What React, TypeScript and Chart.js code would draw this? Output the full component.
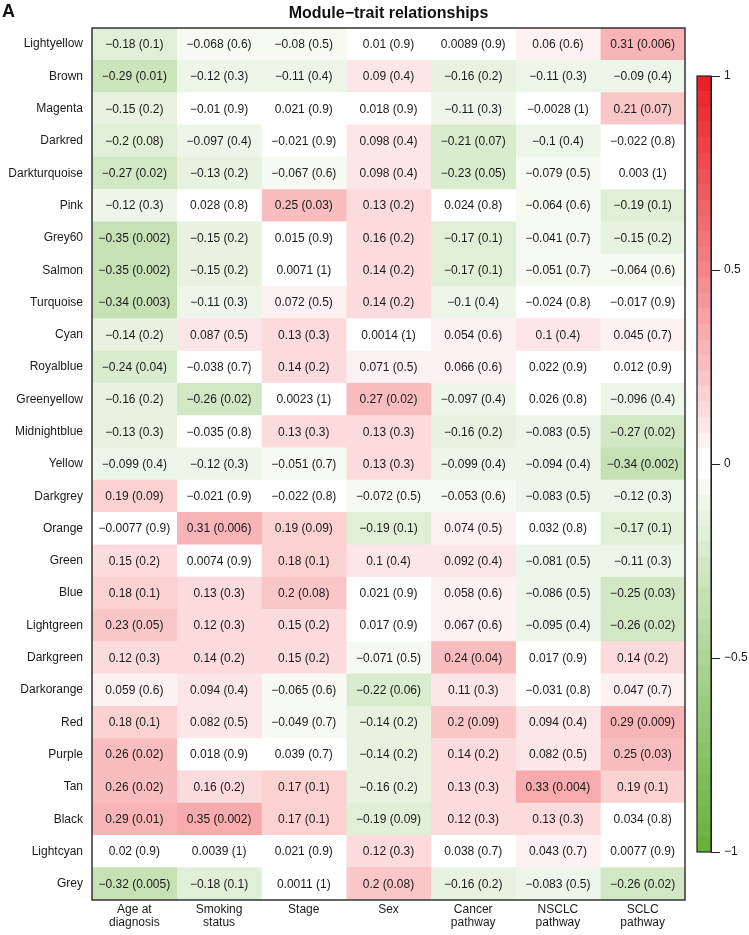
import React, { useEffect, useRef } from 'react';
import { Chart, registerables } from 'chart.js';

Chart.register(...registerables);

const FONT = '"Liberation Sans", Arial, Helvetica, sans-serif';

const modules = [
  'Lightyellow', 'Brown', 'Magenta', 'Darkred', 'Darkturquoise', 'Pink', 'Grey60', 'Salmon', 'Turquoise',
  'Cyan', 'Royalblue', 'Greenyellow', 'Midnightblue', 'Yellow', 'Darkgrey', 'Orange', 'Green', 'Blue',
  'Lightgreen', 'Darkgreen', 'Darkorange', 'Red', 'Purple', 'Tan', 'Black', 'Lightcyan', 'Grey',
];

const traitLabels = [
  ['Age at', 'diagnosis'],
  ['Smoking', 'status'],
  ['Stage'],
  ['Sex'],
  ['Cancer', 'pathway'],
  ['NSCLC', 'pathway'],
  ['SCLC', 'pathway'],
];

const corrAge = [-0.18, -0.29, -0.15, -0.2, -0.27, -0.12, -0.35, -0.35, -0.34, -0.14, -0.24, -0.16, -0.13, -0.099, 0.19, -0.0077, 0.15, 0.18, 0.23, 0.12, 0.059, 0.18, 0.26, 0.26, 0.29, 0.02, -0.32];
const pAge = [0.1, 0.01, 0.2, 0.08, 0.02, 0.3, 0.002, 0.002, 0.003, 0.2, 0.04, 0.2, 0.3, 0.4, 0.09, 0.9, 0.2, 0.1, 0.05, 0.3, 0.6, 0.1, 0.02, 0.02, 0.01, 0.9, 0.005];

const corrSmoking = [-0.068, -0.12, -0.01, -0.097, -0.13, 0.028, -0.15, -0.15, -0.11, 0.087, -0.038, -0.26, -0.035, -0.12, -0.021, 0.31, 0.0074, 0.13, 0.12, 0.14, 0.094, 0.082, 0.018, 0.16, 0.35, 0.0039, -0.18];
const pSmoking = [0.6, 0.3, 0.9, 0.4, 0.2, 0.8, 0.2, 0.2, 0.3, 0.5, 0.7, 0.02, 0.8, 0.3, 0.9, 0.006, 0.9, 0.3, 0.3, 0.2, 0.4, 0.5, 0.9, 0.2, 0.002, 1, 0.1];

const corrStage = [-0.08, -0.11, 0.021, -0.021, -0.067, 0.25, 0.015, 0.0071, 0.072, 0.13, 0.14, 0.0023, 0.13, -0.051, -0.022, 0.19, 0.18, 0.2, 0.15, 0.15, -0.065, -0.049, 0.039, 0.17, 0.17, 0.021, 0.0011];
const pStage = [0.5, 0.4, 0.9, 0.9, 0.6, 0.03, 0.9, 1, 0.5, 0.3, 0.2, 1, 0.3, 0.7, 0.8, 0.09, 0.1, 0.08, 0.2, 0.2, 0.6, 0.7, 0.7, 0.1, 0.1, 0.9, 1];

const corrSex = [0.01, 0.09, 0.018, 0.098, 0.098, 0.13, 0.16, 0.14, 0.14, 0.0014, 0.071, 0.27, 0.13, 0.13, -0.072, -0.19, 0.1, 0.021, 0.017, -0.071, -0.22, -0.14, -0.14, -0.16, -0.19, 0.12, 0.2];
const pSex = [0.9, 0.4, 0.9, 0.4, 0.4, 0.2, 0.2, 0.2, 0.2, 1, 0.5, 0.02, 0.3, 0.3, 0.5, 0.1, 0.4, 0.9, 0.9, 0.5, 0.06, 0.2, 0.2, 0.2, 0.09, 0.3, 0.08];

const corrCancer = [0.0089, -0.16, -0.11, -0.21, -0.23, 0.024, -0.17, -0.17, -0.1, 0.054, 0.066, -0.097, -0.16, -0.099, -0.053, 0.074, 0.092, 0.058, 0.067, 0.24, 0.11, 0.2, 0.14, 0.13, 0.12, 0.038, -0.16];
const pCancer = [0.9, 0.2, 0.3, 0.07, 0.05, 0.8, 0.1, 0.1, 0.4, 0.6, 0.6, 0.4, 0.2, 0.4, 0.6, 0.5, 0.4, 0.6, 0.6, 0.04, 0.3, 0.09, 0.2, 0.3, 0.3, 0.7, 0.2];

const corrNsclc = [0.06, -0.11, -0.0028, -0.1, -0.079, -0.064, -0.041, -0.051, -0.024, 0.1, 0.022, 0.026, -0.083, -0.094, -0.083, 0.032, -0.081, -0.086, -0.095, 0.017, -0.031, 0.094, 0.082, 0.33, 0.13, 0.043, -0.083];
const pNsclc = [0.6, 0.3, 1, 0.4, 0.5, 0.6, 0.7, 0.7, 0.8, 0.4, 0.9, 0.8, 0.5, 0.4, 0.5, 0.8, 0.5, 0.5, 0.4, 0.9, 0.8, 0.4, 0.5, 0.004, 0.3, 0.7, 0.5];

const corrSclc = [0.31, -0.09, 0.21, -0.022, 0.003, -0.19, -0.15, -0.064, -0.017, 0.045, 0.012, -0.096, -0.27, -0.34, -0.12, -0.17, -0.11, -0.25, -0.26, 0.14, 0.047, 0.29, 0.25, 0.19, 0.034, 0.0077, -0.26];
const pSclc = [0.006, 0.4, 0.07, 0.8, 1, 0.1, 0.2, 0.6, 0.9, 0.7, 0.9, 0.4, 0.02, 0.002, 0.3, 0.1, 0.3, 0.03, 0.02, 0.2, 0.7, 0.009, 0.03, 0.1, 0.8, 0.9, 0.02];

const colorbarTicks = [-1, -0.5, 0, 0.5, 1];

const GREEN = [104, 178, 60];
const RED = [235, 33, 39];
const NCOLORS = 50;

function paletteColor(idx: number): string {
  const half = NCOLORS / 2;
  let c: number[];
  if (idx < half) {
    const s = Math.pow((half - 1 - idx) / (half - 1), 0.88);
    c = GREEN.map((g) => 255 + (g - 255) * s);
  } else {
    const s = Math.pow((idx - half) / (half - 1), 0.88);
    c = RED.map((r) => 255 + (r - 255) * s);
  }
  return `rgb(${Math.round(c[0])},${Math.round(c[1])},${Math.round(c[2])})`;
}

function colorFor(v: number): string {
  const idx = Math.max(0, Math.min(NCOLORS - 1, Math.floor((v + 1) / (2 / NCOLORS))));
  return paletteColor(idx);
}

const fmt = (v: number) => String(v).replace('-', '\u2212');

export default function App() {
  const mainRef = useRef<HTMLCanvasElement | null>(null);
  const barRef = useRef<HTMLCanvasElement | null>(null);

  useEffect(() => {
    document.body.style.margin = '0';
    Chart.defaults.font.family = FONT;
    Chart.defaults.color = '#1a1a1a';

    const corrCols = [corrAge, corrSmoking, corrStage, corrSex, corrCancer, corrNsclc, corrSclc];
    const pCols = [pAge, pSmoking, pStage, pSex, pCancer, pNsclc, pSclc];

    const textPlugin = {
      id: 'cellText',
      afterDatasetsDraw(chart: any) {
        const ctx = chart.ctx;
        ctx.save();
        ctx.font = `12px ${FONT}`;
        ctx.fillStyle = '#1a1a1a';
        ctx.textAlign = 'center';
        ctx.textBaseline = 'middle';
        chart.data.datasets.forEach((ds: any, j: number) => {
          const meta = chart.getDatasetMeta(j);
          meta.data.forEach((el: any, i: number) => {
            const p = el.getCenterPoint();
            ctx.fillText(`${fmt(corrCols[j][i])} (${fmt(pCols[j][i])})`, p.x, p.y + 0.5);
          });
        });
        const a = chart.chartArea;
        ctx.strokeStyle = '#333';
        ctx.lineWidth = 1.5;
        ctx.strokeRect(a.left, a.top, a.right - a.left, a.bottom - a.top);
        ctx.font = `bold 16px ${FONT}`;
        ctx.fillStyle = '#111';
        ctx.fillText('Module\u2212trait relationships', (a.left + a.right) / 2, 14);
        ctx.textAlign = 'left';
        ctx.font = `bold 18px ${FONT}`;
        ctx.fillText('A', 2, 12);
        ctx.restore();
      },
    };

    const main = new Chart(mainRef.current as HTMLCanvasElement, {
      type: 'bar',
      data: {
        labels: modules,
        datasets: corrCols.map((col, j) => ({
          label: traitLabels[j].join(' '),
          data: modules.map(() => 1),
          backgroundColor: col.map(colorFor),
          borderWidth: 0,
          barPercentage: 1,
          categoryPercentage: 1,
          stack: 'cells',
        })),
      },
      options: {
        indexAxis: 'y',
        animation: false,
        responsive: false,
        maintainAspectRatio: false,
        events: [],
        layout: { padding: { top: 28, right: 64, left: 0, bottom: 0 } },
        plugins: { legend: { display: false }, tooltip: { enabled: false }, title: { display: false } },
        scales: {
          x: {
            type: 'linear',
            stacked: true,
            min: 0,
            max: traitLabels.length,
            grid: { display: false, drawTicks: false },
            border: { display: false },
            afterBuildTicks: (scale: any) => {
              scale.ticks = traitLabels.map((_, i) => ({ value: i + 0.5 }));
            },
            afterFit: (scale: any) => {
              scale.height = 35;
            },
            ticks: {
              autoSkip: false,
              maxRotation: 0,
              padding: 3,
              font: { size: 12, lineHeight: 1.1 },
              color: '#1a1a1a',
              callback: (_v: any, i: number) => traitLabels[i],
            },
          },
          y: {
            type: 'category',
            stacked: true,
            grid: { display: false, drawTicks: false },
            border: { display: false },
            afterFit: (scale: any) => {
              scale.width = 92;
            },
            ticks: { padding: 9, font: { size: 12 }, color: '#1a1a1a', autoSkip: false },
          },
        },
      },
      plugins: [textPlugin],
    } as any);

    const boxPlugin = {
      id: 'cbBox',
      afterDatasetsDraw(chart: any) {
        const a = chart.chartArea;
        const ctx = chart.ctx;
        ctx.save();
        ctx.strokeStyle = '#222';
        ctx.lineWidth = 1.2;
        ctx.strokeRect(a.left, a.top, a.right - a.left, a.bottom - a.top);
        ctx.restore();
      },
    };

    const bins = Array.from({ length: NCOLORS }, (_, i) => i);
    const step = 2 / NCOLORS;
    const cb = new Chart(barRef.current as HTMLCanvasElement, {
      type: 'bar',
      data: {
        labels: ['scale'],
        datasets: bins.map((i) => ({
          data: [[-1 + i * step, -1 + (i + 1) * step]],
          backgroundColor: paletteColor(i),
          borderWidth: 0,
          barPercentage: 1,
          categoryPercentage: 1,
          grouped: false,
        })),
      },
      options: {
        animation: false,
        responsive: false,
        maintainAspectRatio: false,
        events: [],
        layout: { padding: { left: 17, top: 16, bottom: 18, right: 0 } },
        plugins: { legend: { display: false }, tooltip: { enabled: false } },
        scales: {
          x: { display: false },
          y: {
            position: 'right',
            min: -1,
            max: 1,
            afterBuildTicks: (scale: any) => {
              scale.ticks = colorbarTicks.map((v) => ({ value: v }));
            },
            afterFit: (scale: any) => {
              scale.width = 38;
            },
            grid: { drawOnChartArea: false, drawTicks: true, tickLength: 9, color: '#222', lineWidth: 1 },
            border: { display: true, color: '#222', width: 1 },
            ticks: { padding: 4, font: { size: 12 }, color: '#1a1a1a', callback: (v: any) => fmt(Number(v)) },
          },
        },
      },
      plugins: [boxPlugin],
    } as any);

    return () => {
      main.destroy();
      cb.destroy();
    };
  }, []);

  return (
    <div style={{ position: 'fixed', left: 0, top: 0, width: 749, height: 935, background: '#fff' }}>
      <canvas
        ref={mainRef}
        width={749}
        height={935}
        style={{ position: 'absolute', left: 0, top: 0, width: 749, height: 935 }}
      />
      <canvas
        ref={barRef}
        width={69}
        height={810}
        style={{ position: 'absolute', left: 680, top: 60, width: 69, height: 810 }}
      />
    </div>
  );
}
